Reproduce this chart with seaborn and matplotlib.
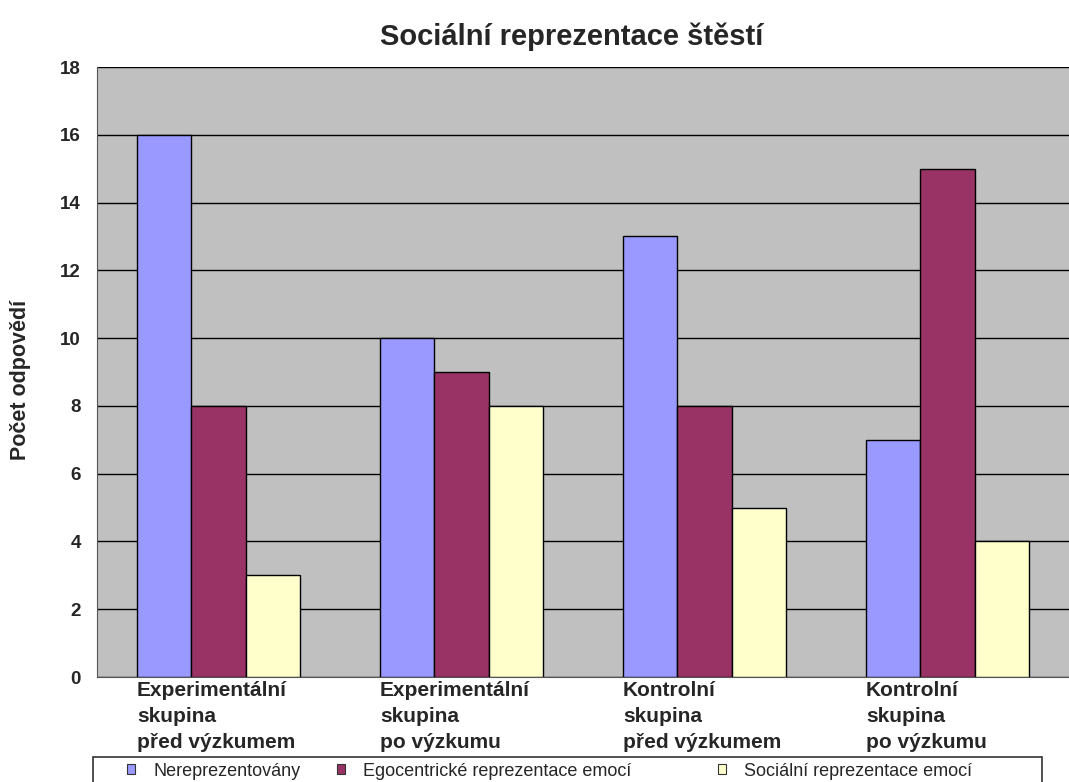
import pandas as pd
import matplotlib.pyplot as plt
import seaborn as sns
from matplotlib.patches import Patch, Rectangle

# Data
groups = ['Experimentální\nskupina\npřed výzkumem',
          'Experimentální\nskupina\npo výzkumu',
          'Kontrolní\nskupina\npřed výzkumem',
          'Kontrolní\nskupina\npo výzkumu']
series = ['Nereprezentovány',
          'Egocentrické reprezentace emocí',
          'Sociální reprezentace emocí']
nereprezentovany = [16, 10, 13, 7]
egocentricke = [8, 9, 8, 15]
socialni = [3, 8, 5, 4]
colors = ['#9999FF', '#993366', '#FFFFCC']

df = pd.DataFrame({
    'Skupina': groups * 3,
    'Typ': [series[0]] * 4 + [series[1]] * 4 + [series[2]] * 4,
    'Počet': nereprezentovany + egocentricke + socialni,
})

sns.set_style('white')
plt.rcParams['font.family'] = ['Liberation Sans', 'DejaVu Sans']

W, H = 1069, 782
fig = plt.figure(figsize=(W / 100, H / 100), dpi=100)
ax = fig.add_axes([97 / W, 1 - 677 / H, 1 - 97 / W, (677 - 67) / H])
ax.set_facecolor('#C0C0C0')

bar_w = 0.67
sns.barplot(data=df, x='Skupina', y='Počet', hue='Typ', order=groups,
            hue_order=series, palette=colors, saturation=1, width=bar_w,
            edgecolor='black', linewidth=1, ax=ax, zorder=3, legend=False)

# y axis
ax.set_ylim(0, 18)
ax.set_yticks(range(0, 19, 2))
ax.yaxis.grid(True, color='black', linewidth=1, zorder=0)
ax.set_axisbelow(True)
ax.tick_params(axis='y', length=5, width=1, color='#555555',
               labelsize=13.5, pad=6.5)
for lab in ax.get_yticklabels():
    lab.set_fontweight('bold')
ax.set_ylabel('Počet odpovědí', fontsize=15.5, fontweight='bold')
ax.yaxis.set_label_coords(-0.068, 0.487)

# x axis: labels left-aligned at the start of each bar group, ticks between groups
ax.set_xlim(-0.5, 3.5)
ax.set_xticks([i - bar_w / 2 for i in range(len(groups))])
ax.set_xticklabels(groups, ha='left', fontsize=15, fontweight='bold',
                   linespacing=1.45)
ax.tick_params(axis='x', length=0, pad=3)
ax.set_xticks([i + 0.5 for i in range(-1, len(groups))], minor=True)
ax.tick_params(axis='x', which='minor', length=5, width=1, color='#555555')
ax.set_xlabel('')

for side in ['top', 'right']:
    ax.spines[side].set_visible(False)
ax.spines['left'].set_color('#555555')
ax.spines['bottom'].set_color('#555555')

ax.set_title('Sociální reprezentace štěstí', fontsize=21, fontweight='bold',
             pad=16, x=(572 - 97) / (W - 97))

# legend: boxed strip at the bottom, three entries at uneven positions
fig.add_artist(Rectangle((93 / W, -0.01), (1042 - 93) / W, 0.01 + (782 - 757) / H,
                         transform=fig.transFigure, facecolor='white',
                         edgecolor='#333333', linewidth=1.2))
marker_x = [127, 337, 718]
for name, col, mx in zip(series, colors, marker_x):
    handle = Patch(facecolor=col, edgecolor='#333333', linewidth=0.8)
    fig.legend([handle], [name], loc='center left',
               bbox_to_anchor=(mx / W, 1 - 771 / H), frameon=False,
               fontsize=13, handlelength=0.45, handleheight=0.45,
               handletextpad=1.0, borderpad=0, borderaxespad=0)

fig.savefig('out.png', dpi=100)
